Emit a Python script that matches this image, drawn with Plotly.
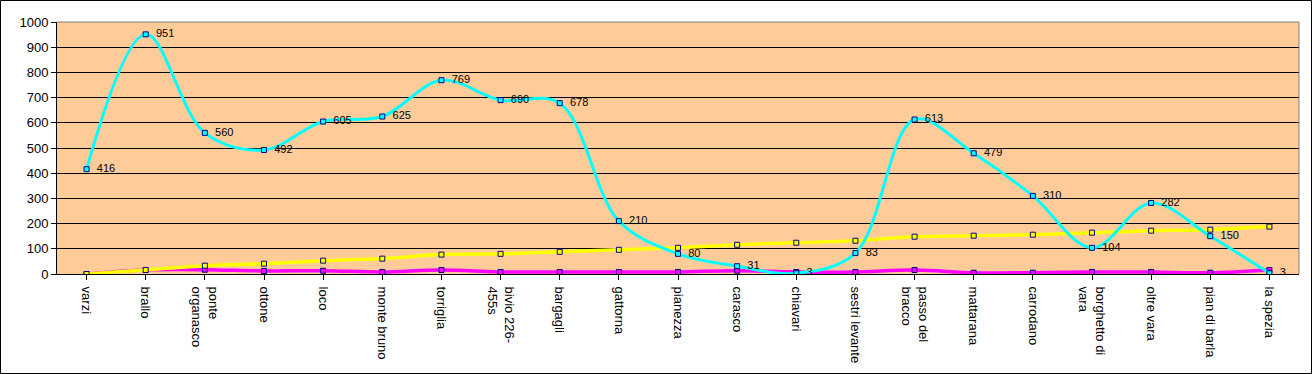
import plotly.graph_objects as go

categories = ["varzi", "brallo", "ponte<br>organasco", "ottone", "loco", "monte bruno",
              "torriglia", "bivio 226-<br>455s", "bargagli", "gattorna", "pianezza",
              "carasco", "chiavari", "sestri levante", "passo del<br>bracco", "mattarana",
              "carrodano", "borghetto di<br>vara", "oltre vara", "pian di barla", "la spezia"]
altitude = [416, 951, 560, 492, 605, 625, 769, 690, 678, 210, 80, 31, 3, 83, 613, 479,
            310, 104, 282, 150, 3]
cumulative_km = [0, 16, 33, 41, 53, 61, 77, 80, 88, 96, 104, 116, 124, 132, 148, 152,
                 156, 164, 172, 176, 188]
segment_km = [0, 16, 17, 12, 13, 8, 16, 8, 8, 8, 8, 13, 8, 8, 16, 5, 5, 8, 8, 5, 16]
y_ticks = list(range(0, 1001, 100))

FONT = "Arial, 'Liberation Sans', sans-serif"
NAVY = "#000080"

fig = go.Figure()


def add_series(values, color, width, labels=False):
    fig.add_trace(go.Scatter(
        x=list(range(len(categories))), y=values,
        mode="lines+markers+text" if labels else "lines+markers",
        line=dict(color=color, width=width, shape="spline", smoothing=1.0),
        marker=dict(symbol="square", size=5, color=color,
                    line=dict(color=NAVY, width=1)),
        text=["  " + str(v) for v in values] if labels else None,
        textposition="middle right",
        textfont=dict(family=FONT, size=11, color="black"),
        hoverinfo="skip", showlegend=False, cliponaxis=True,
    ))


add_series(segment_km, "#FF00FF", 3.5)
add_series(cumulative_km, "#FFFF00", 3.5)
add_series(altitude, "#00FFFF", 3, labels=True)

W, H = 1312, 374
L, R, T, B = 57, 13, 22, 100
pw, ph = W - L - R, H - T - B

fig.update_layout(
    width=W, height=H,
    margin=dict(l=L, r=R, t=T, b=B, pad=0, autoexpand=False),
    paper_bgcolor="white", plot_bgcolor="#FFCC99",
    font=dict(family=FONT, size=13, color="black"),
    xaxis=dict(
        tickmode="array", tickvals=list(range(len(categories))), ticktext=categories,
        range=[-0.5, len(categories) - 0.5], tickangle=90,
        ticks="outside", ticklen=5, tickcolor="black", tickson="boundaries",
        ticklabelstandoff=4,
        showgrid=False, showline=True, linecolor="black", linewidth=1,
        tickfont=dict(family=FONT, size=13, color="black"), zeroline=False,
        fixedrange=True, automargin=False,
    ),
    yaxis=dict(
        range=[0, 1000], tickvals=y_ticks, ticks="outside", ticklen=5,
        tickcolor="black", showgrid=True, gridcolor="black", gridwidth=1,
        showline=True, linecolor="black", linewidth=1, zeroline=False,
        tickfont=dict(family=FONT, size=13, color="black"), fixedrange=True,
        automargin=False,
    ),
    shapes=[
        dict(type="line", xref="paper", yref="paper", x0=0, x1=1, y0=1, y1=1,
             line=dict(color="#808080", width=1), layer="above"),
        dict(type="line", xref="paper", yref="paper", x0=1, x1=1, y0=0, y1=1,
             line=dict(color="#808080", width=1), layer="above"),
        dict(type="rect", xref="paper", yref="paper",
             x0=(0.5 - L) / pw, x1=(W - 0.5 - L) / pw,
             y0=-(B - 0.5) / ph, y1=1 + (T - 0.5) / ph,
             line=dict(color="black", width=1), layer="above"),
    ],
)

fig.write_html("out.html", config={"displayModeBar": False},
               post_script="document.body.style.margin='0';document.body.style.overflow='hidden';")
